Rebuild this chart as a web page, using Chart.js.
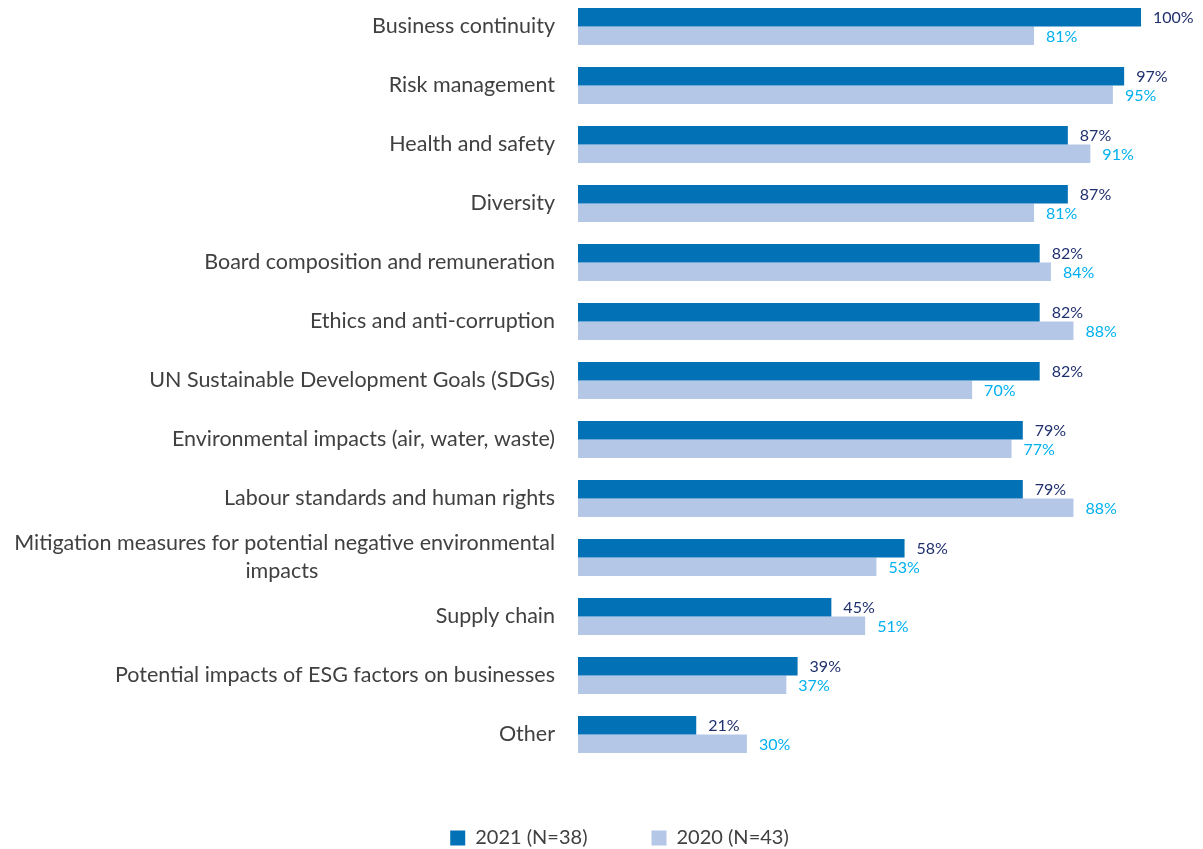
<!DOCTYPE html>
<html>
<head>
<meta charset="utf-8">
<script src="https://cdn.jsdelivr.net/npm/chart.js@4/dist/chart.umd.min.js"></script>
<style>
  html, body { margin: 0; padding: 0; background: #ffffff; overflow: hidden; width: 1203px; height: 849px; }
  #wrap { position: absolute; left: 0; top: -3px; width: 1239px; height: 861px; }
</style>
</head>
<body>
<div id="wrap"><canvas id="c" width="1239" height="861"></canvas></div>
<script>
const categories = [
  "Business continuity",
  "Risk management",
  "Health and safety",
  "Diversity",
  "Board composition and remuneration",
  "Ethics and anti-corruption",
  "UN Sustainable Development Goals (SDGs)",
  "Environmental impacts (air, water, waste)",
  "Labour standards and human rights",
  ["Mitigation measures for potential negative environmental", "impacts"],
  "Supply chain",
  "Potential impacts of ESG factors on businesses",
  "Other"
];
const values2021 = [100, 97, 87, 87, 82, 82, 82, 79, 79, 58, 45, 39, 21];
const values2020 = [81, 95, 91, 81, 84, 88, 70, 77, 88, 53, 51, 37, 30];
const seriesNames = ["2021 (N=38)", "2020 (N=43)"];

const FONT = "Lato, 'Open Sans', sans-serif";
const AXIS_FONT_SIZE = 21.5;

// center shorter lines of multi-line labels under the longest one (right-aligned axis)
const mctx = document.createElement('canvas').getContext('2d');
mctx.font = AXIS_FONT_SIZE + "px " + FONT;
function centeredLines(label) {
  if (!Array.isArray(label)) return label;
  const widths = label.map(l => mctx.measureText(l).width);
  const maxW = Math.max(...widths);
  const sp = mctx.measureText(" ").width;
  return label.map((l, i) => l + " ".repeat(Math.round((maxW - widths[i]) / 2 / sp)));
}

const valueLabels = {
  id: 'valueLabels',
  afterDatasetsDraw(chart) {
    const ctx = chart.ctx;
    const colors = ['#1F2F6E', '#00B0F0'];
    ctx.save();
    ctx.font = "16px " + FONT;
    ctx.textAlign = 'left';
    ctx.textBaseline = 'middle';
    chart.data.datasets.forEach((ds, di) => {
      const meta = chart.getDatasetMeta(di);
      ctx.fillStyle = colors[di];
      meta.data.forEach((el, i) => {
        ctx.fillText(ds.data[i] + "%", el.x + 12, el.y + 1);
      });
    });
    ctx.restore();
  }
};

new Chart(document.getElementById('c'), {
  type: 'bar',
  data: {
    labels: categories,
    datasets: [
      { label: seriesNames[0], data: values2021, backgroundColor: '#0271B6', categoryPercentage: 0.63, barPercentage: 1.0 },
      { label: seriesNames[1], data: values2020, backgroundColor: '#B4C7E7', categoryPercentage: 0.63, barPercentage: 1.0 }
    ]
  },
  options: {
    indexAxis: 'y',
    responsive: false,
    animation: false,
    devicePixelRatio: 1,
    layout: { padding: { left: 0, right: 0, top: 0, bottom: 0 } },
    scales: {
      x: { display: false, min: 0, max: 117.4 },
      y: {
        grid: { display: false, drawTicks: false },
        border: { display: false },
        afterFit(scale) { scale.width = 578; scale.paddingTop = 0; scale.paddingBottom = 0; },
        ticks: {
          padding: 23,
          color: '#404040',
          font: { family: FONT, size: AXIS_FONT_SIZE, lineHeight: 1.3 },
          autoSkip: false,
          callback(value) { return centeredLines(categories[value]); }
        }
      }
    },
    plugins: {
      tooltip: { enabled: false },
      legend: {
        position: 'bottom',
        labels: {
          boxWidth: 15,
          boxHeight: 15,
          padding: 64,
          color: '#404040',
          font: { family: FONT, size: 20 }
        }
      }
    }
  },
  plugins: [valueLabels]
});
</script>
</body>
</html>
